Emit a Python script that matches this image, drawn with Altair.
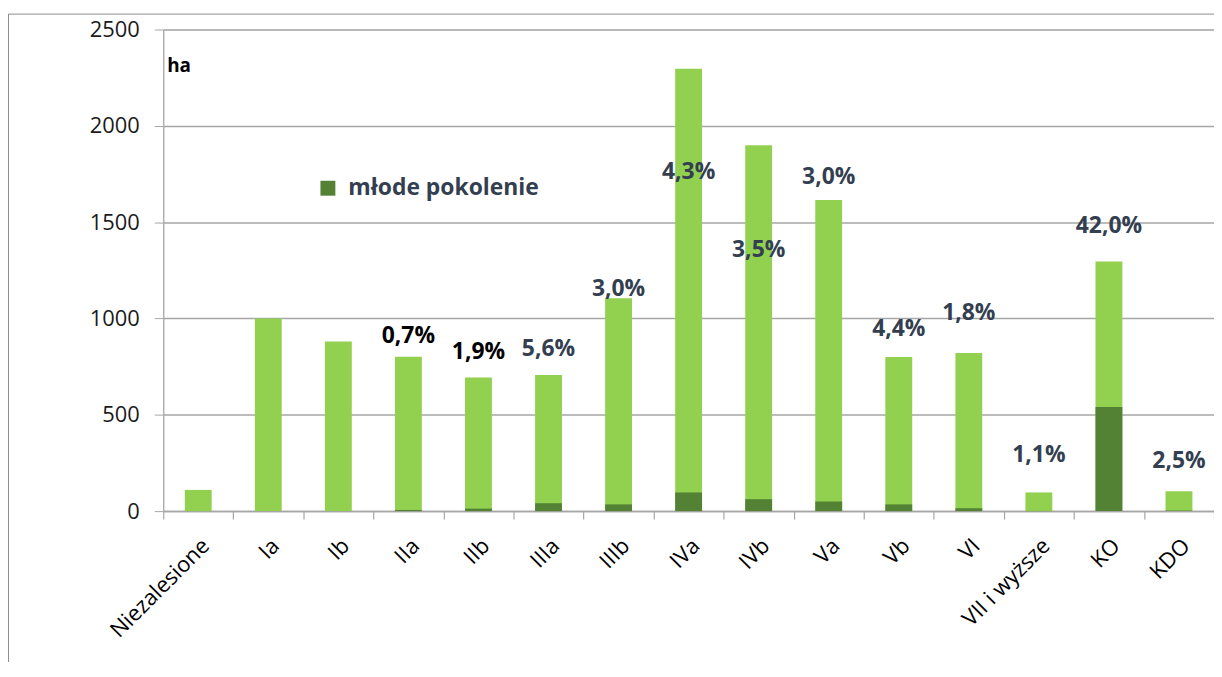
import altair as alt
import pandas as pd

categories = ["Niezalesione", "Ia", "Ib", "IIa", "IIb", "IIIa", "IIIb", "IVa",
              "IVb", "Va", "Vb", "VI", "VII i wyższe", "KO", "KDO"]
total_ha = [110, 1000, 880, 802, 694, 706, 1105, 2297, 1899, 1615, 800, 821, 97, 1296, 103]
young_ha = [0, 0, 0, 6, 13, 41, 35, 97, 62, 50, 35, 15, 1, 541, 3]
pct_labels = ["", "", "", "0,7%", "1,9%", "5,6%", "3,0%", "4,3%", "3,5%", "3,0%",
              "4,4%", "1,8%", "1,1%", "42,0%", "2,5%"]
label_y = [0, 0, 0, 909, 826, 842, 1152, 1761, 1353, 1736, 945, 1028, 289, 1482, 258]
y_ticks = [0, 500, 1000, 1500, 2000, 2500]
series_name = "młode pokolenie"
unit_label = "ha"

df = pd.DataFrame({
    "cat": categories,
    "total": total_ha,
    "young": young_ha,
    "pct": pct_labels,
    "ly": label_y,
    "series": [series_name] * len(categories),
})

FONT = "Open Sans"
GRID = "#A6A6A6"

x_enc = alt.X("cat:N", sort=categories,
              scale=alt.Scale(paddingInner=0, paddingOuter=0),
              axis=alt.Axis(title=None, labelAngle=-45, labelAlign="right",
                            labelBaseline="middle", labelFont=FONT, labelFontSize=22,
                            labelColor="#000000", labelPadding=23, labelOffset=7,
                            labelLimit=0, tickBand="extent", tickSize=8, tickColor=GRID,
                            domainColor=GRID, domainWidth=1.5, tickWidth=1.2,
                            grid=False))
y_scale = alt.Scale(domain=[0, 2500], nice=False)
y_axis = alt.Axis(title=None, values=y_ticks, format="d", labelFont=FONT, labelFontSize=22,
                  labelColor="#1a1a1a", labelPadding=15, tickSize=9, tickColor=GRID,
                  domainColor=GRID, domainWidth=1.2, grid=True, gridColor=GRID,
                  gridWidth=1.5)

base = alt.Chart(df)

light = base.mark_bar(size=27, color="#92D050").encode(
    x=x_enc,
    y=alt.Y("total:Q", scale=y_scale, axis=y_axis),
)

dark = base.mark_bar(size=27).encode(
    x=alt.X("cat:N", sort=categories),
    y=alt.Y("young:Q", scale=y_scale),
    color=alt.Color("series:N",
                    scale=alt.Scale(domain=[series_name], range=["#548235"]),
                    legend=alt.Legend(title=None, orient="none", legendX=154, legendY=148,
                                      symbolType="square", symbolSize=225,
                                      symbolStrokeWidth=0, labelFont=FONT,
                                      labelFontSize=23, labelFontWeight="bold",
                                      labelColor="#333F50", labelOffset=9, padding=0,
                                      labelLimit=0)),
)

labels = base.transform_filter("datum.pct != ''").mark_text(
    font=FONT, fontSize=23, fontWeight="bold", align="center", baseline="middle"
).encode(
    x=alt.X("cat:N", sort=categories),
    y=alt.Y("ly:Q", scale=y_scale),
    text="pct:N",
    color=alt.condition(alt.FieldOneOfPredicate(field="cat", oneOf=["IIa", "IIb"]),
                        alt.value("#000000"), alt.value("#333F50")),
)

ha_text = alt.Chart(pd.DataFrame({"t": [unit_label]})).mark_text(
    font=FONT, fontSize=19, fontWeight="bold", align="left", baseline="middle",
    color="#000000"
).encode(x=alt.value(4), y=alt.value(37), text="t:N")

frame = alt.Chart(pd.DataFrame({"t": [0]})).mark_rect(
    fill=None, stroke="#8c8c8c", strokeWidth=1
).encode(x=alt.value(-155.5), x2=alt.value(1200), y=alt.value(-15.5), y2=alt.value(700))

chart = alt.layer(frame, light, dark, labels, ha_text).properties(
    width=1056, height=484,
    padding={"left": 156, "top": 20, "right": 0, "bottom": 150},
    autosize=alt.AutoSizeParams(type="none"),
).configure_view(stroke=None).configure(background="white")

chart.save("out.html", embed_options={"renderer": "svg", "actions": False})
